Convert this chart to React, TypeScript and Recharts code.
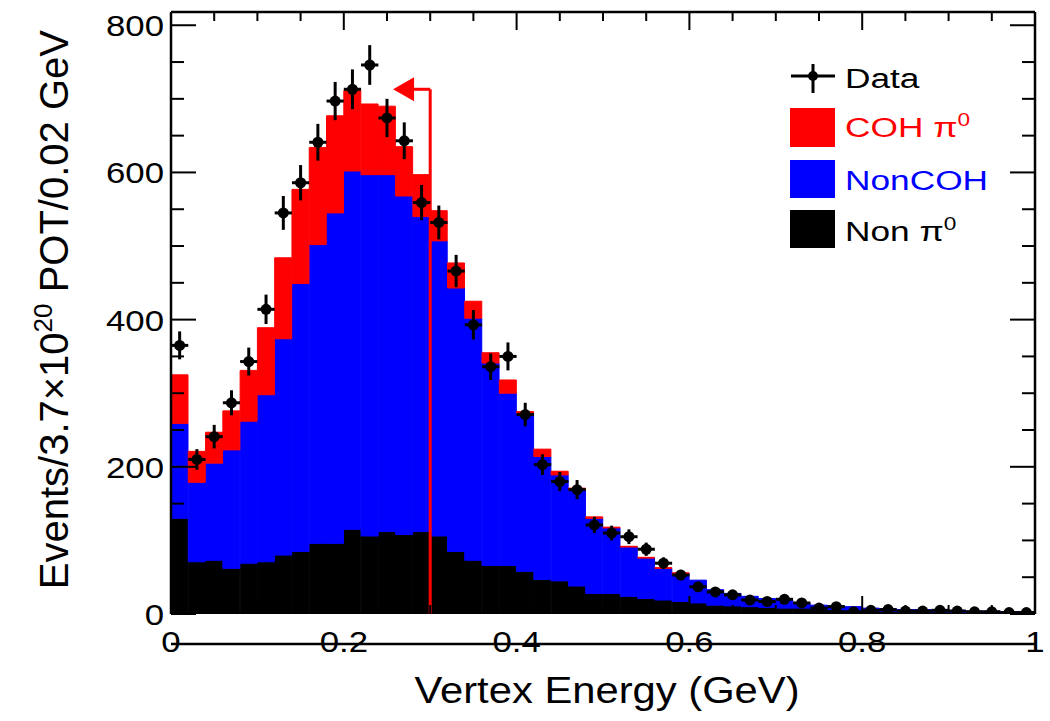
import React from 'react'
import { ComposedChart, Bar, Scatter, ErrorBar, XAxis, YAxis, ReferenceLine, ReferenceDot } from 'recharts'

// bin centres (GeV), 0.02 GeV bins
const binCenters = [
    0.01, 0.03, 0.05, 0.07, 0.09, 0.11, 0.13, 0.15, 0.17, 0.19,
    0.21, 0.23, 0.25, 0.27, 0.29, 0.31, 0.33, 0.35, 0.37, 0.39,
    0.41, 0.43, 0.45, 0.47, 0.49, 0.51, 0.53, 0.55, 0.57, 0.59,
    0.61, 0.63, 0.65, 0.67, 0.69, 0.71, 0.73, 0.75, 0.77, 0.79,
    0.81, 0.83, 0.85, 0.87, 0.89, 0.91, 0.93, 0.95, 0.97, 0.99,
]

// stacked MC components
const nonPi0 = [
    130, 71, 73, 62, 69, 71, 80, 85, 96, 96,
    115, 106, 112, 108, 112, 106, 85, 73, 66, 66,
    58, 47, 45, 38, 28, 28, 24, 21, 19, 17,
    15, 12, 11, 10, 9, 8, 8, 7, 6, 5,
    4, 4, 3, 3, 3, 2, 2, 2, 2, 1,
]
const nonCoh = [
    129, 108, 132, 161, 193, 227, 294, 364, 406, 449,
    487, 491, 485, 460, 428, 401, 358, 329, 275, 234,
    215, 167, 144, 131, 102, 89, 67, 55, 43, 38,
    31, 21, 17, 14, 12, 11, 7, 5, 5, 5,
    4, 3, 3, 3, 2, 3, 2, 2, 1, 2,
]
const cohPi0 = [
    66, 42, 42, 53, 69, 91, 110, 128, 132, 132,
    109, 96, 93, 67, 57, 41, 34, 23, 14, 18,
    2, 10, 5, 2, 2, 1, 1, 1, 1, 1,
    0, 0, 0, 0, 0, 0, 0, 0, 0, 0,
    0, 0, 0, 0, 0, 0, 0, 0, 0, 0,
]

// data points and their stat errors
const dataCounts = [
    365, 210, 241, 287, 343, 414, 545, 586, 641, 697,
    713, 746, 674, 643, 559, 532, 466, 393, 336, 350,
    271, 203, 180, 169, 121, 110, 105, 88, 69, 53,
    37, 30, 26, 19, 17, 20, 15, 8, 10, 3,
    5, 6, 4, 4, 5, 4, 3, 3, 2, 2,
]
const dataErrors = [
    19, 14, 16, 17, 19, 20, 23, 24, 25, 26,
    27, 27, 26, 25, 24, 23, 22, 20, 18, 19,
    16, 14, 13, 13, 11, 10, 10, 9, 8, 7,
    6, 5, 5, 4, 4, 4, 4, 3, 3, 2,
    2, 2, 2, 2, 2, 2, 2, 2, 1, 1,
]

const halfBin = 0.01
const cutValue = 0.3
const arrowY = 713
const arrowTipX = 0.257

const yTicks = [0, 50, 100, 150, 200, 250, 300, 350, 400, 450, 500, 550, 600, 650, 700, 750, 800]
const xTicks = [0, 0.05, 0.1, 0.15, 0.2, 0.25, 0.3, 0.35, 0.4, 0.45, 0.5, 0.55, 0.6, 0.65, 0.7, 0.75, 0.8, 0.85, 0.9, 0.95, 1]

const FONT = '"Liberation Sans", Arial, Helvetica, sans-serif'
const W = 1050
const H = 721
const PL = 171 // plot left
const PR = 1035 // plot right
const PT = 12
const PB = 614
const SX = 1.2 // reference text is drawn a bit wide

const histData = binCenters.map((c, i) => ({
    center: c,
    nonPi0: nonPi0[i],
    nonCoh: nonCoh[i],
    coh: cohPi0[i],
}))

const pointData = binCenters.map((c, i) => ({
    x: c,
    y: dataCounts[i],
    ex: halfBin,
    ey: dataErrors[i],
}))

const isMajorY = (v: number) => v % 200 === 0
const isMajorX = (v: number) => Math.abs(v * 5 - Math.round(v * 5)) < 1e-6

const LeftTick = (props: any) => {
    const { y, payload } = props
    const major = isMajorY(payload.value)
    return (
        <g>
            <line x1={PL} x2={PL + (major ? 25 : 13)} y1={y} y2={y} stroke="#000" strokeWidth={2} />
            {major && (
                <text transform={`translate(${PL - 7}, ${y + 11}) scale(${SX}, 1)`} textAnchor="end" fontSize={29} fontFamily={FONT} fill="#000">
                    {payload.value}
                </text>
            )}
        </g>
    )
}

const RightTick = (props: any) => {
    const { y, payload } = props
    const major = isMajorY(payload.value)
    return <line x1={PR} x2={PR - (major ? 25 : 13)} y1={y} y2={y} stroke="#000" strokeWidth={2} />
}

const BottomTick = (props: any) => {
    const { x, payload } = props
    const major = isMajorX(payload.value)
    return (
        <g>
            <line x1={x} x2={x} y1={PB} y2={PB - (major ? 18 : 9)} stroke="#000" strokeWidth={2} />
            {major && (
                <text transform={`translate(${x}, ${PB + 38}) scale(${SX}, 1)`} textAnchor="middle" fontSize={29} fontFamily={FONT} fill="#000">
                    {payload.value}
                </text>
            )}
        </g>
    )
}

const TopTick = (props: any) => {
    const { x, payload } = props
    const major = isMajorX(payload.value)
    return <line x1={x} x2={x} y1={PT} y2={PT + (major ? 18 : 9)} stroke="#000" strokeWidth={2} />
}

const YTitle = () => (
    <text transform="translate(68, 30) rotate(-90)" textAnchor="end" fontSize={40} fontFamily={FONT} fill="#000">
        Events/3.7×10
        <tspan dy={-16} fontSize={26}>20</tspan>
        <tspan dy={16}> POT/0.02 GeV</tspan>
    </text>
)

const XTitle = () => (
    <text transform={`translate(${(PL + PR) / 2 + 4}, 703) scale(1.16, 1)`} textAnchor="middle" fontSize={36} fontFamily={FONT} fill="#000">
        Vertex Energy (GeV)
    </text>
)

const Arrowhead = (props: any) => {
    const { cx, cy } = props
    if (cx == null || cy == null) return null
    return <polygon points={`${cx},${cy} ${cx + 21},${cy - 12} ${cx + 21},${cy + 12}`} fill="#ff0000" />
}

const DataDot = (props: any) => {
    const { cx, cy } = props
    return <circle cx={cx} cy={cy} r={5.5} fill="#000" />
}

function Legend() {
    const boxX = 790
    const textX = 845
    const label = (y: number, color: string, children: React.ReactNode) => (
        <text transform={`translate(${textX}, ${y}) scale(1.26, 1)`} fill={color}>
            {children}
        </text>
    )
    return (
        <svg width={W} height={H} style={{ position: 'absolute', left: 0, top: 0, pointerEvents: 'none' }}>
            <g fontFamily={FONT} fontSize={28}>
                <line x1={791} x2={835} y1={76} y2={76} stroke="#000" strokeWidth={3} />
                <line x1={813} x2={813} y1={64} y2={93} stroke="#000" strokeWidth={3} />
                <circle cx={813} cy={76} r={5} fill="#000" />
                {label(88, '#000', 'Data')}

                <rect x={boxX} y={108} width={45} height={39} fill="#ff0000" />
                {label(137, '#ff0000', <>COH π<tspan dy={-11} fontSize={18}>0</tspan></>)}

                <rect x={boxX} y={160} width={45} height={38} fill="#0000ff" />
                {label(190, '#0000ff', 'NonCOH')}

                <rect x={boxX} y={210} width={45} height={38} fill="#000" />
                {label(241, '#000', <>Non π<tspan dy={-11} fontSize={18}>0</tspan></>)}
            </g>
        </svg>
    )
}

export default function App() {
    return (
        <div style={{ position: 'absolute', left: 0, top: 0, width: W, height: H, background: '#fff' }}>
            <ComposedChart
                width={W}
                height={H}
                data={histData}
                margin={{ top: 0, right: 0, bottom: 0, left: 0 }}
                barCategoryGap={0}
                barGap={0}
            >
                <XAxis xAxisId="c" dataKey="center" type="category" hide />
                <XAxis
                    xAxisId="n"
                    dataKey="x"
                    type="number"
                    domain={[0, 1]}
                    allowDataOverflow
                    ticks={xTicks}
                    interval={0}
                    height={H - PB}
                    axisLine={{ stroke: '#000', strokeWidth: 2.5 }}
                    tickLine={false}
                    tick={<BottomTick />}
                    label={<XTitle />}
                />
                <XAxis
                    xAxisId="t"
                    dataKey="x"
                    type="number"
                    orientation="top"
                    domain={[0, 1]}
                    allowDataOverflow
                    ticks={xTicks}
                    interval={0}
                    height={PT}
                    axisLine={{ stroke: '#000', strokeWidth: 2.5 }}
                    tickLine={false}
                    tick={<TopTick />}
                />
                <YAxis
                    yAxisId="l"
                    type="number"
                    domain={[0, 818]}
                    allowDataOverflow
                    ticks={yTicks}
                    interval={0}
                    width={PL}
                    axisLine={{ stroke: '#000', strokeWidth: 2.5 }}
                    tickLine={false}
                    tick={<LeftTick />}
                    label={<YTitle />}
                />
                <YAxis
                    yAxisId="r"
                    orientation="right"
                    type="number"
                    domain={[0, 818]}
                    allowDataOverflow
                    ticks={yTicks}
                    interval={0}
                    width={W - PR}
                    axisLine={{ stroke: '#000', strokeWidth: 2.5 }}
                    tickLine={false}
                    tick={<RightTick />}
                />

                <Bar xAxisId="c" yAxisId="l" dataKey="nonPi0" stackId="mc" fill="#000000" stroke="#000000" strokeWidth={1} isAnimationActive={false} />
                <Bar xAxisId="c" yAxisId="l" dataKey="nonCoh" stackId="mc" fill="#0000ff" stroke="#0000ff" strokeWidth={1} isAnimationActive={false} />
                <Bar xAxisId="c" yAxisId="l" dataKey="coh" stackId="mc" fill="#ff0000" stroke="#ff0000" strokeWidth={1} isAnimationActive={false} />

                <ReferenceLine
                    xAxisId="n"
                    yAxisId="l"
                    segment={[{ x: cutValue, y: 0 }, { x: cutValue, y: arrowY }]}
                    stroke="#ff0000"
                    strokeWidth={3}
                />
                <ReferenceLine
                    xAxisId="n"
                    yAxisId="l"
                    segment={[{ x: cutValue, y: arrowY }, { x: arrowTipX + 0.02, y: arrowY }]}
                    stroke="#ff0000"
                    strokeWidth={3}
                />
                <ReferenceDot xAxisId="n" yAxisId="l" x={arrowTipX} y={arrowY} r={1} shape={<Arrowhead />} />

                <Scatter
                    xAxisId="n"
                    yAxisId="l"
                    data={pointData}
                    dataKey="y"
                    shape={<DataDot />}
                    isAnimationActive={false}
                >
                    <ErrorBar dataKey="ex" direction="x" width={0} stroke="#000" strokeWidth={3} />
                    <ErrorBar dataKey="ey" direction="y" width={0} stroke="#000" strokeWidth={3} />
                </Scatter>
            </ComposedChart>
            <Legend />
        </div>
    )
}
